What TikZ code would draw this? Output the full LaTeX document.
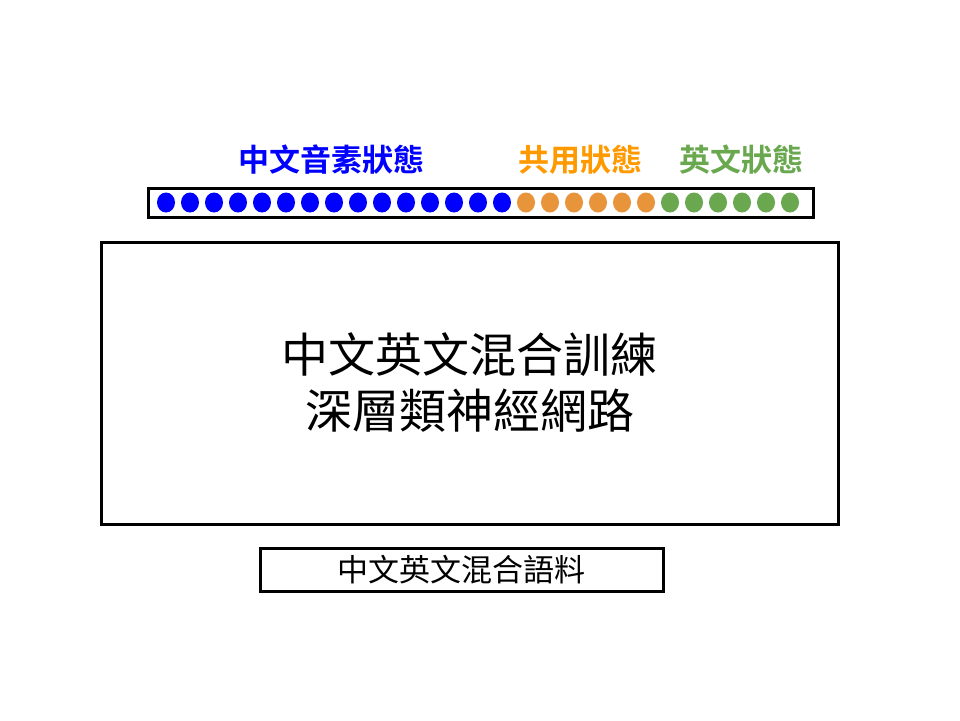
\documentclass[tikz,border=0pt]{standalone}
\usepackage{fontspec}
\newfontfamily\cjk{Noto Sans CJK TC}
\newfontfamily\cjkb{Noto Sans CJK TC Bold}
\definecolor{dblue}{RGB}{0,0,255}
\definecolor{dorange}{RGB}{232,148,58}
\definecolor{torange}{RGB}{255,153,0}
\definecolor{dgreen}{RGB}{106,168,79}
\begin{document}
\begin{tikzpicture}[x=1pt,y=-1pt,
  frame/.style={draw=black,line width=3pt,fill=white},
  lbl/.style={font=\cjkb\fontsize{31}{34}\selectfont,inner sep=0pt}]
\useasboundingbox (0,0) rectangle (960,720);
\node[frame,minimum width=665pt,minimum height=29pt,inner sep=0pt] (bar) at (480.5,202.5) {};
\foreach \i in {0,...,26}{
  \pgfmathsetmacro{\xx}{166+24*\i}
  \ifnum\i<15 \def\c{dblue}\else\ifnum\i<21 \def\c{dorange}\else\def\c{dgreen}\fi\fi
  \fill[\c] (\xx,202.5) ellipse (9pt and 10pt);
}
\node[lbl,text=dblue] (zh) at (331,160) {中文音素狀態};
\node[lbl,text=torange] (sh) at (580,160) {共用狀態};
\node[lbl,text=dgreen] (en) at (741,160) {英文狀態};
\node[frame,minimum width=737pt,minimum height=282pt,inner sep=0pt,
  align=center,font=\cjk\fontsize{47}{56}\selectfont] (net) at (469.5,383) {中文英文混合訓練\\深層類神經網路};
\node[frame,minimum width=403pt,minimum height=43pt,inner sep=0pt,
  font=\cjk\fontsize{31}{34}\selectfont] (corp) at (461.5,569.5) {中文英文混合語料};
\end{tikzpicture}
\end{document}
